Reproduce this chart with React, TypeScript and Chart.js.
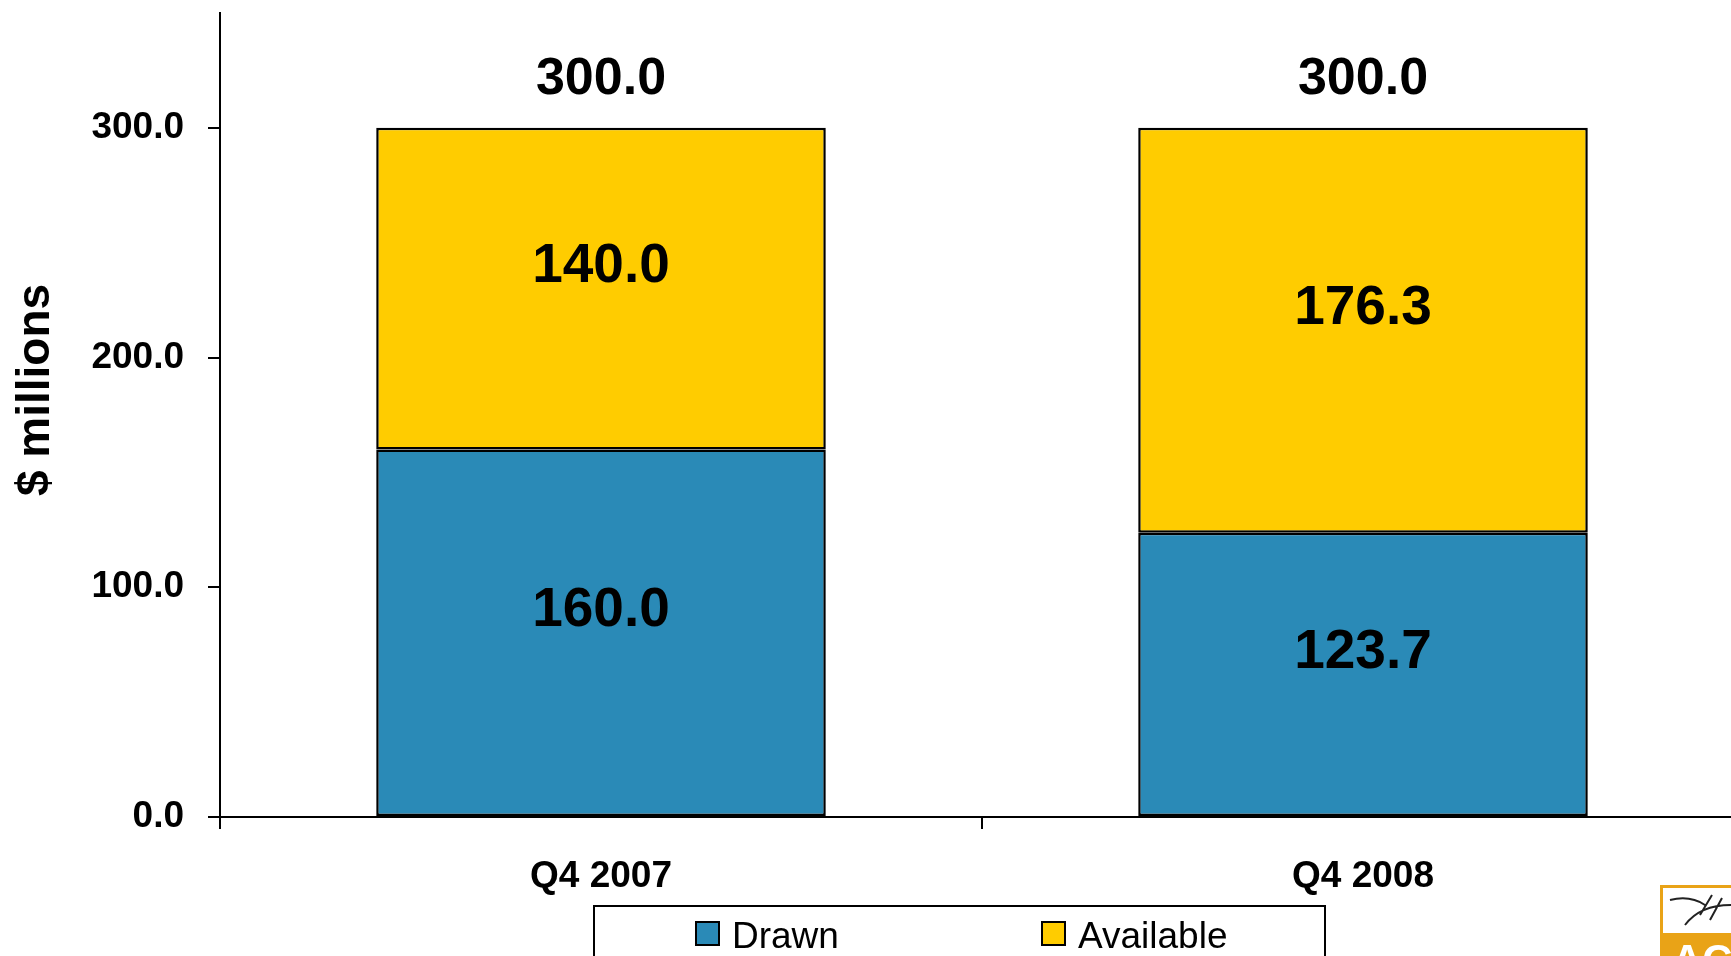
import React, { useEffect, useRef } from "react";
import { Chart, registerables } from "chart.js";

Chart.register(...registerables);

const categories = ["Q4 2007", "Q4 2008"];
const drawnValues = [160.0, 123.7];
const availableValues = [140.0, 176.3];
const yTickValues = [0, 100, 200, 300];
const seriesNames = ["Drawn", "Available"];
const seriesColors = ["#2A8AB7", "#FFCC00"];
const yTitle = "$ millions";

const FONT = "'Liberation Sans', Arial, Helvetica, sans-serif";

const labelsPlugin = {
  id: "valueLabels",
  afterDatasetsDraw(chart: any) {
    const ctx = chart.ctx;
    ctx.save();
    ctx.fillStyle = "#000";
    ctx.textAlign = "center";
    chart.data.datasets.forEach((ds: any, di: number) => {
      const meta = chart.getDatasetMeta(di);
      meta.data.forEach((bar: any, i: number) => {
        const v = ds.data[i];
        const mid = (bar.y + bar.base) / 2;
        ctx.font = `bold 55px ${FONT}`;
        ctx.textBaseline = "middle";
        ctx.fillText(v.toFixed(1), bar.x, mid - 22);
      });
    });
    const lastMeta = chart.getDatasetMeta(chart.data.datasets.length - 1);
    lastMeta.data.forEach((bar: any, i: number) => {
      let total = 0;
      chart.data.datasets.forEach((ds: any) => (total += ds.data[i]));
      ctx.font = `bold 52px ${FONT}`;
      ctx.textBaseline = "alphabetic";
      ctx.fillText(total.toFixed(1), bar.x, bar.y - 34);
    });
    ctx.restore();
  },
};

const decorPlugin = {
  id: "decor",
  afterDraw(chart: any) {
    const ctx = chart.ctx;
    const ca = chart.chartArea;
    ctx.save();
    ctx.font = `bold 46px ${FONT}`;
    ctx.fillStyle = "#000";
    ctx.textAlign = "center";
    ctx.textBaseline = "middle";
    ctx.translate(36, (ca.top + ca.bottom) / 2 - 25);
    ctx.rotate(-Math.PI / 2);
    ctx.fillText(yTitle, 0, 0);
    ctx.restore();

    ctx.save();
    const boxL = 594;
    const boxR = 1325;
    const boxT = 906;
    ctx.lineWidth = 2;
    ctx.strokeStyle = "#000";
    ctx.fillStyle = "#fff";
    ctx.fillRect(boxL, boxT, boxR - boxL, 80);
    ctx.strokeRect(boxL, boxT, boxR - boxL, 80);
    const itemX = [696, 1042];
    ctx.font = `37px ${FONT}`;
    ctx.textAlign = "left";
    ctx.textBaseline = "alphabetic";
    chart.data.datasets.forEach((ds: any, i: number) => {
      ctx.fillStyle = ds.backgroundColor;
      ctx.fillRect(itemX[i], 922, 23, 23);
      ctx.lineWidth = 2;
      ctx.strokeStyle = "#000";
      ctx.strokeRect(itemX[i], 922, 23, 23);
      ctx.fillStyle = "#000";
      ctx.fillText(ds.label, itemX[i] + 36, 948);
    });
    ctx.restore();

    ctx.save();
    ctx.fillStyle = "#E9A317";
    ctx.fillRect(1660, 885, 100, 80);
    ctx.fillStyle = "#fff";
    ctx.fillRect(1663, 888, 100, 45);
    ctx.font = `bold 42px ${FONT}`;
    ctx.fillStyle = "#fff";
    ctx.textAlign = "left";
    ctx.fillText("AC", 1672, 974);
    ctx.strokeStyle = "#222";
    ctx.lineWidth = 2;
    ctx.beginPath();
    ctx.moveTo(1670, 900);
    ctx.quadraticCurveTo(1690, 895, 1705, 905);
    ctx.moveTo(1685, 925);
    ctx.quadraticCurveTo(1700, 905, 1731, 905);
    ctx.moveTo(1700, 915);
    ctx.lineTo(1712, 895);
    ctx.moveTo(1710, 920);
    ctx.lineTo(1722, 898);
    ctx.stroke();
    ctx.restore();
  },
};

export default function App() {
  const ref = useRef<HTMLCanvasElement | null>(null);

  useEffect(() => {
    document.body.style.margin = "0";
    document.body.style.overflow = "hidden";
    document.documentElement.style.overflow = "hidden";
    if (!ref.current) return;
    const chart = new Chart(ref.current, {
      type: "bar",
      data: {
        labels: categories,
        datasets: [
          {
            label: seriesNames[0],
            data: drawnValues,
            backgroundColor: seriesColors[0],
            borderColor: "#000",
            borderWidth: 2.5,
            borderSkipped: false,
            categoryPercentage: 1,
            barPercentage: 0.59,
          },
          {
            label: seriesNames[1],
            data: availableValues,
            backgroundColor: seriesColors[1],
            borderColor: "#000",
            borderWidth: 2.5,
            borderSkipped: false,
            categoryPercentage: 1,
            barPercentage: 0.59,
          },
        ],
      },
      options: {
        responsive: false,
        animation: false,
        layout: { padding: { top: 13, right: 16, left: 0, bottom: 0 } },
        plugins: {
          legend: { display: false },
          tooltip: { enabled: false },
          title: { display: false },
        },
        scales: {
          x: {
            stacked: true,
            offset: true,
            grid: {
              display: true,
              drawOnChartArea: false,
              drawTicks: true,
              tickLength: 12,
              offset: true,
              color: "#000",
              lineWidth: 2,
            },
            border: { display: true, color: "#000", width: 2 },
            ticks: {
              color: "#000",
              padding: 26,
              font: { family: FONT, size: 37, weight: "bold" },
              maxRotation: 0,
            },
            afterFit: (s: any) => {
              s.height = 139;
              s.paddingLeft = 0;
              s.paddingRight = 0;
            },
          },
          y: {
            stacked: true,
            min: 0,
            max: 350,
            ticks: {
              stepSize: 100,
              color: "#000",
              padding: 24,
              font: { family: FONT, size: 37, weight: "bold" },
              callback: (v: any) => Number(v).toFixed(1),
            },
            afterBuildTicks: (s: any) => {
              s.ticks = s.ticks.filter((t: any) => yTickValues.includes(t.value));
            },
            grid: {
              display: true,
              drawOnChartArea: false,
              drawTicks: true,
              tickLength: 12,
              color: "#000",
              lineWidth: 2,
            },
            border: { display: true, color: "#000", width: 2 },
            afterFit: (s: any) => {
              s.width = 220;
              s.paddingTop = 0;
              s.paddingBottom = 0;
            },
          },
        },
      },
      plugins: [labelsPlugin, decorPlugin],
    });
    return () => chart.destroy();
  }, []);

  return (
    <div style={{ width: 1760, height: 956, position: "relative", background: "#fff" }}>
      <canvas ref={ref} width={1760} height={956} style={{ display: "block" }} />
    </div>
  );
}
